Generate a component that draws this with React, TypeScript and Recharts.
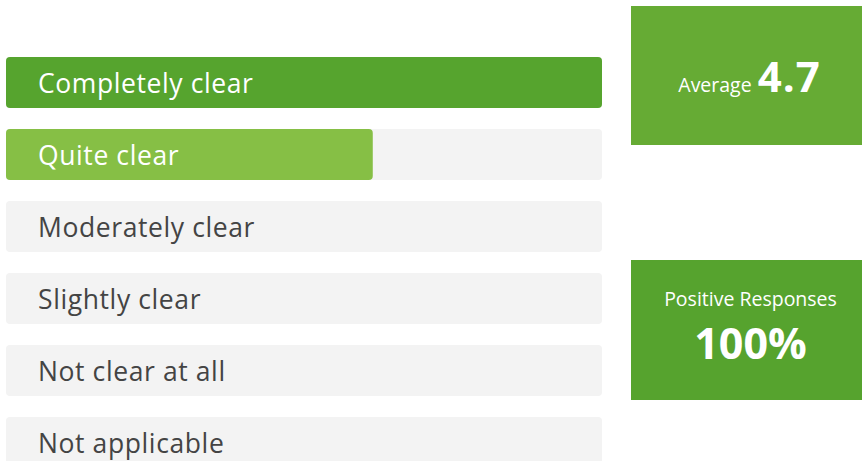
import { BarChart, Bar, XAxis, YAxis, Cell, LabelList } from 'recharts';

const categories = ['Completely clear', 'Quite clear', 'Moderately clear', 'Slightly clear', 'Not clear at all', 'Not applicable'];
const responses = [13, 8, 0, 0, 0, 0];
const barColors = ['#56a42e', '#86bf45', '#56a42e', '#56a42e', '#56a42e', '#56a42e'];

const averageScore = '4.7';
const positiveShare = '100%';

const maxResponses = Math.max(...responses);
const data = categories.map((name, i) => ({ name, value: responses[i], track: maxResponses }));

const font = '"Open Sans", sans-serif';

const RowLabel = (props: any) => {
    const { y, height, index, value } = props;
    const filled = responses[index] > 0;
    return (
        <text
            x={38}
            y={y + height / 2}
            dy={10}
            fill={filled ? '#ffffff' : '#444444'}
            fontSize={26.5}
            letterSpacing={0.6}
            fontFamily={font}
        >
            {value}
        </text>
    );
};

const App = () => (
    <div style={{ position: 'absolute', left: 0, top: 0, width: 862, height: 461, overflow: 'hidden', background: '#fff' }}>
        <BarChart
            width={862}
            height={478}
            data={data}
            layout="vertical"
            margin={{ top: 46, right: 260, bottom: 0, left: 6 }}
            barGap={-51}
        >
            <XAxis type="number" domain={[0, maxResponses]} hide />
            <YAxis type="category" dataKey="name" hide />
            {/* grey track behind each row */}
            <Bar dataKey="track" barSize={51} radius={4} fill="#f3f3f3" isAnimationActive={false} />
            <Bar dataKey="value" barSize={51} radius={4} isAnimationActive={false}>
                {data.map((d, i) => (
                    <Cell key={d.name} fill={barColors[i]} />
                ))}
            </Bar>
            {/* invisible bar that only carries the row labels */}
            <Bar dataKey="track" barSize={51} fill="transparent" isAnimationActive={false}>
                <LabelList dataKey="name" content={RowLabel} />
            </Bar>
        </BarChart>
        <div
            style={{
                position: 'absolute', left: 631, top: 6, width: 231, height: 139,
                background: '#66ab34', color: '#fff', fontFamily: font,
                display: 'flex', alignItems: 'baseline', justifyContent: 'center',
                paddingTop: 41, paddingLeft: 6, boxSizing: 'border-box',
            }}
        >
            <span style={{ fontSize: 19.5, marginRight: 6 }}>Average</span>
            <span style={{ fontSize: 42, fontWeight: 700, letterSpacing: 1 }}>{averageScore}</span>
        </div>
        <div
            style={{
                position: 'absolute', left: 631, top: 260, width: 231, height: 140,
                background: '#56a32e', color: '#fff', fontFamily: font,
                display: 'flex', flexDirection: 'column', alignItems: 'center',
                paddingTop: 26, paddingLeft: 8, boxSizing: 'border-box',
            }}
        >
            <div style={{ fontSize: 19.5, lineHeight: '26px' }}>Positive Responses</div>
            <div style={{ fontSize: 43, fontWeight: 700, lineHeight: '62px' }}>{positiveShare}</div>
        </div>
    </div>
);

export default App;
